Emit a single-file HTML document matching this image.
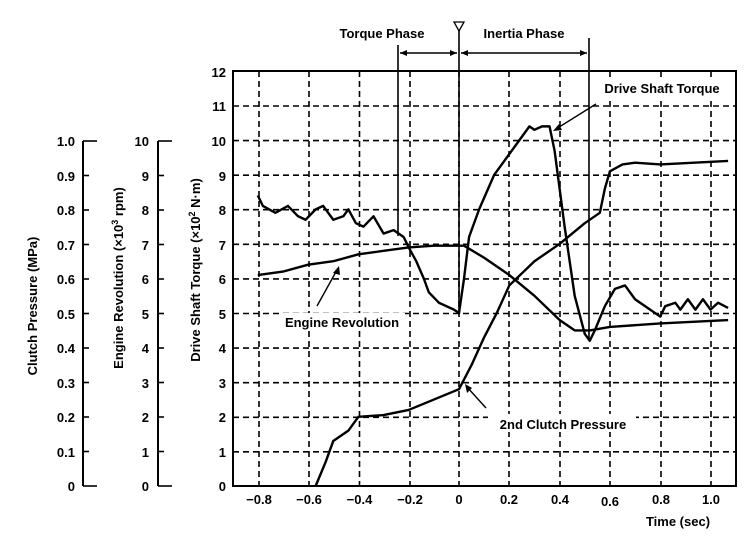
<!DOCTYPE html>
<html><head><meta charset="utf-8"><style>
html,body{margin:0;padding:0;background:#fff;}
svg{display:block;font-family:"Liberation Sans",Arial,sans-serif;font-weight:bold;}
</style></head><body>
<svg width="753" height="536" viewBox="0 0 753 536" xmlns="http://www.w3.org/2000/svg">
<rect width="753" height="536" fill="#fff"/>
<!-- grid -->
<g stroke="#000" stroke-width="1.6" stroke-dasharray="6,4" fill="none">
<line x1="233" y1="106" x2="736" y2="106"/>
<line x1="233" y1="140.6" x2="736" y2="140.6"/>
<line x1="233" y1="175.2" x2="736" y2="175.2"/>
<line x1="233" y1="209.7" x2="736" y2="209.7"/>
<line x1="233" y1="244.3" x2="736" y2="244.3"/>
<line x1="233" y1="278.9" x2="736" y2="278.9"/>
<line x1="233" y1="313.5" x2="736" y2="313.5"/>
<line x1="233" y1="348.1" x2="736" y2="348.1"/>
<line x1="233" y1="382.7" x2="736" y2="382.7"/>
<line x1="233" y1="417.3" x2="736" y2="417.3"/>
<line x1="233" y1="451.8" x2="736" y2="451.8"/>
<line x1="259" y1="71" x2="259" y2="486"/>
<line x1="309" y1="71" x2="309" y2="486"/>
<line x1="359.5" y1="71" x2="359.5" y2="486"/>
<line x1="410" y1="71" x2="410" y2="486"/>
<line x1="459" y1="71" x2="459" y2="486"/>
<line x1="509" y1="71" x2="509" y2="486"/>
<line x1="560" y1="71" x2="560" y2="486"/>
<line x1="610" y1="71" x2="610" y2="486"/>
<line x1="661" y1="71" x2="661" y2="486"/>
<line x1="711" y1="71" x2="711" y2="486"/>
</g>
<rect x="233" y="71" width="503" height="415" fill="none" stroke="#000" stroke-width="2"/>
<!-- left axes -->
<g stroke="#000" stroke-width="2" fill="none">
<line x1="83" y1="141" x2="83" y2="486"/>
<line x1="158" y1="141" x2="158" y2="486"/>
</g>
<g stroke="#000" stroke-width="1.6">
<line x1="83" y1="141" x2="97" y2="141"/><line x1="83" y1="175.5" x2="89" y2="175.5"/><line x1="83" y1="210" x2="89" y2="210"/><line x1="83" y1="244.5" x2="89" y2="244.5"/><line x1="83" y1="279" x2="89" y2="279"/><line x1="83" y1="313.5" x2="89" y2="313.5"/><line x1="83" y1="348" x2="89" y2="348"/><line x1="83" y1="382.5" x2="89" y2="382.5"/><line x1="83" y1="417" x2="89" y2="417"/><line x1="83" y1="451.5" x2="89" y2="451.5"/><line x1="83" y1="486" x2="97" y2="486"/>
<line x1="158" y1="141" x2="172" y2="141"/><line x1="158" y1="175.5" x2="164" y2="175.5"/><line x1="158" y1="210" x2="164" y2="210"/><line x1="158" y1="244.5" x2="164" y2="244.5"/><line x1="158" y1="279" x2="164" y2="279"/><line x1="158" y1="313.5" x2="164" y2="313.5"/><line x1="158" y1="348" x2="164" y2="348"/><line x1="158" y1="382.5" x2="164" y2="382.5"/><line x1="158" y1="417" x2="164" y2="417"/><line x1="158" y1="451.5" x2="164" y2="451.5"/><line x1="158" y1="486" x2="172" y2="486"/>
</g>
<g font-size="13" text-anchor="end">
<text x="75" y="146">1.0</text><text x="75" y="181">0.9</text><text x="75" y="215">0.8</text><text x="75" y="250">0.7</text><text x="75" y="284">0.6</text><text x="75" y="319">0.5</text><text x="75" y="353">0.4</text><text x="75" y="388">0.3</text><text x="75" y="422">0.2</text><text x="75" y="457">0.1</text><text x="75" y="491">0</text>
<text x="149" y="146">10</text><text x="149" y="181">9</text><text x="149" y="215">8</text><text x="149" y="250">7</text><text x="149" y="284">6</text><text x="149" y="319">5</text><text x="149" y="353">4</text><text x="149" y="388">3</text><text x="149" y="422">2</text><text x="149" y="457">1</text><text x="149" y="491">0</text>
<text x="226" y="77">12</text><text x="226" y="111">11</text><text x="226" y="146">10</text><text x="226" y="181">9</text><text x="226" y="215">8</text><text x="226" y="250">7</text><text x="226" y="284">6</text><text x="226" y="319">5</text><text x="226" y="353">4</text><text x="226" y="388">3</text><text x="226" y="422">2</text><text x="226" y="457">1</text><text x="226" y="491">0</text>
</g>
<g font-size="13" text-anchor="middle">
<text x="259" y="504">−0.8</text><text x="309" y="504">−0.6</text><text x="359.5" y="504">−0.4</text><text x="410" y="504">−0.2</text><text x="459" y="504">0</text><text x="509" y="504">0.2</text><text x="560" y="504">0.4</text><text x="610" y="506">0.6</text><text x="661" y="504">0.8</text><text x="711" y="504">1.0</text>
</g>
<text x="678" y="526" font-size="13" text-anchor="middle">Time (sec)</text>
<g font-size="13" text-anchor="middle">
<text transform="translate(37,306) rotate(-90)">Clutch Pressure (MPa)</text>
<text transform="translate(123,278) rotate(-90)">Engine Revolution (×10<tspan font-size="9" dy="-5">3</tspan><tspan dy="5"> rpm)</tspan></text>
<text transform="translate(200,270) rotate(-90)">Drive Shaft Torque (×10<tspan font-size="9" dy="-5">2</tspan><tspan dy="5"> N·m)</tspan></text>
</g>
<!-- phase markers -->
<g stroke="#000" stroke-width="1.6" fill="none">
<line x1="398" y1="45" x2="398" y2="236"/>
<line x1="459" y1="30" x2="459" y2="314"/>
<line x1="589" y1="38" x2="589" y2="338"/>
<line x1="400" y1="53" x2="457" y2="53"/>
<line x1="461" y1="53" x2="587" y2="53"/>
</g>
<g fill="#000">
<polygon points="400,53 407,50 407,56"/><polygon points="457,53 450,50 450,56"/>
<polygon points="461,53 468,50 468,56"/><polygon points="587,53 580,50 580,56"/>
</g>
<polygon points="454,22 464,22 459,31" fill="none" stroke="#000" stroke-width="1.3"/>
<text x="382" y="38" font-size="13" text-anchor="middle">Torque Phase</text>
<text x="524" y="38" font-size="13" text-anchor="middle">Inertia Phase</text>
<!-- curves -->
<g transform="translate(459,486) scale(251.5,-34.58)" fill="none" stroke="#000" stroke-width="2.4" stroke-linejoin="round">
<polyline vector-effect="non-scaling-stroke" points="-0.8,8.4 -0.78,8.1 -0.73,7.9 -0.68,8.1 -0.64,7.8 -0.61,7.7 -0.57,8.0 -0.54,8.1 -0.5,7.7 -0.46,7.8 -0.44,8.0 -0.41,7.6 -0.38,7.5 -0.34,7.8 -0.3,7.3 -0.26,7.4 -0.22,7.2 -0.2,6.9 -0.17,6.5 -0.14,6.0 -0.12,5.6 -0.08,5.3 -0.02,5.1 0,5.0 0.02,6.0 0.04,7.2 0.08,8.0 0.14,9.0 0.2,9.6 0.25,10.1 0.28,10.4 0.3,10.3 0.33,10.4 0.36,10.4 0.38,9.7 0.42,7.5 0.46,5.5 0.5,4.4 0.52,4.2 0.54,4.5 0.58,5.2 0.62,5.7 0.66,5.8 0.7,5.4 0.76,5.1 0.8,4.9 0.82,5.2 0.86,5.3 0.88,5.1 0.91,5.4 0.94,5.1 0.97,5.4 1.0,5.1 1.03,5.3 1.07,5.15"/>
<polyline vector-effect="non-scaling-stroke" points="-0.8,6.1 -0.7,6.2 -0.6,6.4 -0.5,6.5 -0.4,6.7 -0.3,6.8 -0.2,6.9 -0.1,6.95 0.02,6.95 0.1,6.6 0.2,6.1 0.3,5.5 0.4,4.8 0.46,4.5 0.52,4.5 0.6,4.6 0.8,4.7 1.07,4.8"/>
<polyline vector-effect="non-scaling-stroke" points="-0.57,0 -0.53,0.7 -0.5,1.3 -0.44,1.6 -0.4,2.0 -0.3,2.05 -0.2,2.2 -0.1,2.5 0,2.8 0.05,3.5 0.1,4.3 0.15,5.0 0.2,5.8 0.3,6.5 0.4,7.0 0.5,7.6 0.56,7.9 0.58,8.6 0.6,9.1 0.65,9.3 0.7,9.35 0.8,9.3 1.07,9.4"/>
</g>
<!-- annotations -->
<rect x="592" y="77" width="142" height="20" fill="#fff"/>
<text x="662" y="93" font-size="13" text-anchor="middle">Drive Shaft Torque</text>
<line x1="596" y1="104" x2="556" y2="129" stroke="#000" stroke-width="1.4"/>
<polygon points="553,131 559,124 562,130" fill="#000"/>
<rect x="280" y="313" width="125" height="18" fill="#fff"/>
<text x="342" y="327" font-size="13" text-anchor="middle">Engine Revolution</text>
<line x1="317" y1="306" x2="337" y2="270" stroke="#000" stroke-width="1.4"/>
<polygon points="339,266 333,273 340,275" fill="#000"/>
<rect x="488" y="414" width="148" height="18" fill="#fff"/>
<text x="563" y="429" font-size="13" text-anchor="middle">2nd Clutch Pressure</text>
<line x1="486" y1="408" x2="467" y2="387" stroke="#000" stroke-width="1.4"/>
<polygon points="465,384 467,393 472,388" fill="#000"/>
</svg>
</body></html>
